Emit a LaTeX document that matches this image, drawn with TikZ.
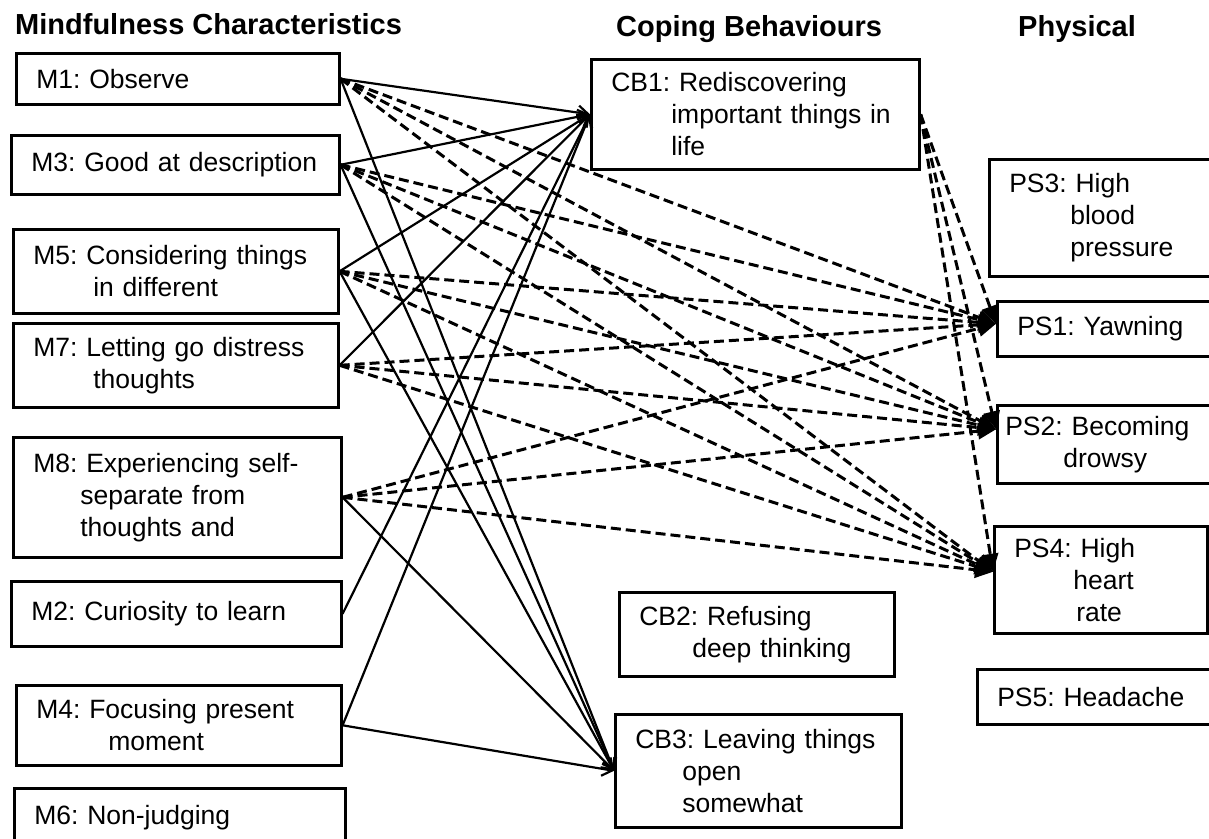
\documentclass[tikz,border=0pt]{standalone}
\usepackage{fontspec}
\setmainfont{Liberation Sans}
\usetikzlibrary{arrows.meta}
\frenchspacing
\newcommand\boxfont{\fontsize{26.5}{32}\selectfont}
\newcommand\hdfont{\fontsize{29}{34}\selectfont\bfseries}
\newcommand\itembox[6]{\pgfmathsetmacro\itemtw{#4-40}\node(#1)[ibox,minimum width=#4pt,minimum height=#5pt,text width=\itemtw pt] at (#2,#3) {#6};}

\tikzset{
  ibox/.style={draw,line width=2.6pt,rectangle,anchor=north west,align=left,inner xsep=20pt,inner ysep=0pt,font=\boxfont},
  solidarrow/.style={line width=2.2pt,-{Straight Barb[length=10pt,width=14pt]}},
  dasharrow/.style={line width=3pt,dash pattern=on 10pt off 5pt,-{Triangle[length=18pt,width=16pt]}},
  heading/.style={anchor=base west,inner sep=0pt,font=\hdfont}
}

\begin{document}
\begin{tikzpicture}[x=1pt,y=-1pt]
\useasboundingbox (0,0) rectangle (1209,838);
\clip (0,0) rectangle (1209,838);

% column headings
\node(hm)[heading] at (15,34) {Mindfulness Characteristics};
\node(hc)[heading] at (616,36) {Coping Behaviours};
\node(hp)[heading] at (1018,36) {Physical};

% mindfulness
\itembox{m1}{15}{52}{323}{51}{M1: Observe}
\itembox{m3}{10}{134}{328}{59}{M3: Good at description}
\itembox{m5}{12}{228}{325}{84}{M5: Considering things\\\hspace*{60pt}in different}
\itembox{m7}{12}{322}{325}{84}{M7: Letting go distress\\\hspace*{60pt}thoughts}
\itembox{m8}{12}{436}{328}{120}{M8: Experiencing self-\\\hspace*{47pt}separate from\\\hspace*{47pt}thoughts and}
\itembox{m2}{10}{580}{330}{65}{M2: Curiosity to learn}
\itembox{m4}{15}{684}{325}{80}{M4: Focusing present\\\hspace*{72pt}moment}
\itembox{m6}{13}{787}{331}{58}{M6: Non-judging}

% coping
\itembox{cb1}{590}{58}{328}{110}{CB1: Rediscovering\\\hspace*{60pt}important things in\\\hspace*{60pt}life}
\itembox{cb2}{618}{591}{275}{84}{CB2: Refusing\\\hspace*{53pt}deep thinking}
\itembox{cb3}{614}{713}{286}{113}{CB3: Leaving things\\\hspace*{47pt}open\\\hspace*{47pt}somewhat}

% physical
\itembox{ps3}{988}{158}{240}{117}{PS3: High\\\hspace*{61pt}blood\\\hspace*{61pt}pressure}
\itembox{ps1}{996}{300}{240}{55}{PS1: Yawning}
\itembox{ps2}{996}{404}{240}{78}{\hspace*{-12pt}PS2: Becoming\\\hspace*{46pt}drowsy}
\itembox{ps4}{993}{525}{213}{107}{PS4: High\\\hspace*{59pt}heart\\\hspace*{62pt}rate}
\itembox{ps5}{976}{668}{260}{55}{PS5: Headache}

% links
\foreach \s in {m1,m3,m5,m7,m2,m4}
  \draw[solidarrow] (\s.east) -- (cb1.west);
\foreach \s in {m1,m3,m5,m8,m4}
  \draw[solidarrow] (\s.east) -- (cb3.west);
\foreach \s in {m1,m3,m5,m7,m8,cb1} {
  \draw[dasharrow] (\s.east) -- ([yshift=5pt]ps1.west);
  \draw[dasharrow] (\s.east) -- ([yshift=15pt]ps2.west);
  \draw[dasharrow] (\s.east) -- ([yshift=8pt]ps4.west);
}
\end{tikzpicture}
\end{document}
